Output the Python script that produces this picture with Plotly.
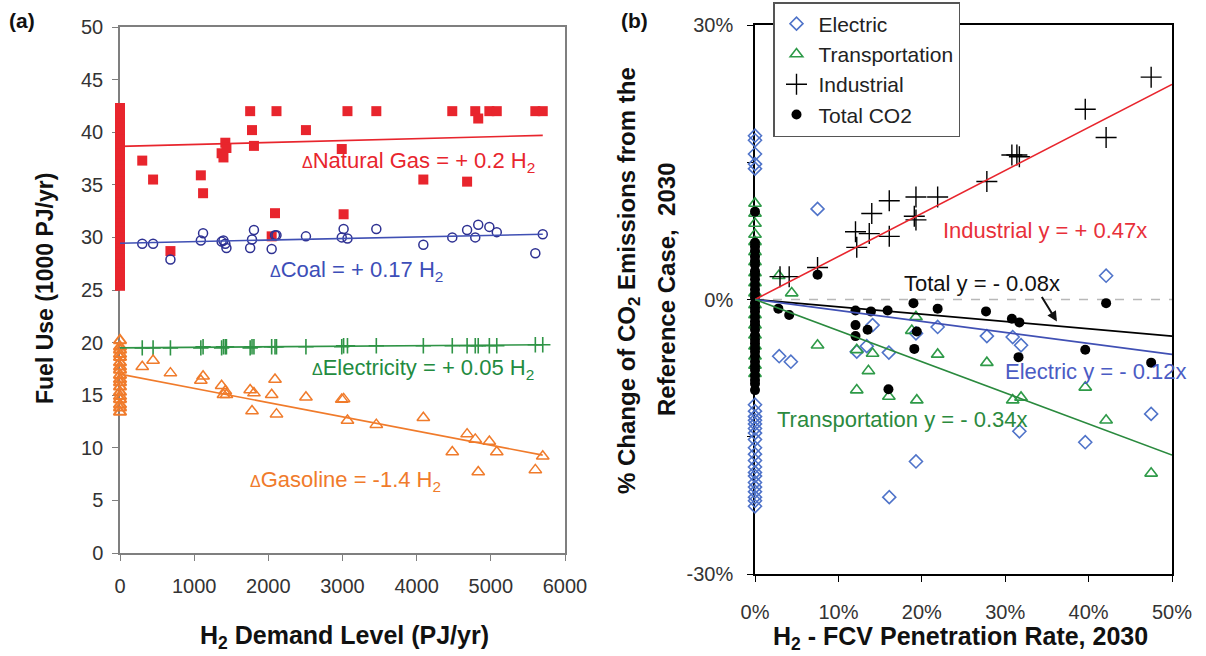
import plotly.graph_objects as go

W, H = 1206, 656

# ---------------- Panel (a) data ----------------
h2_demand = [300, 446, 680, 1090, 1120, 1370, 1395, 1420, 1435, 1755, 1780, 1806, 2045, 2090,
             2110, 2507, 2990, 3015, 3067, 3456, 4090, 4480, 4680, 4790, 4830, 4980, 5080, 5600, 5700]
natural_gas = [37.3, 35.5, 28.7, 35.9, 34.2, 38.0, 37.6, 39.0, 38.5, 42.0, 40.2, 38.7, 30.1, 32.3,
               42.0, 40.2, 38.4, 32.2, 42.0, 42.0, 35.5, 42.0, 35.3, 42.0, 41.3, 42.0, 42.0, 42.0, 42.0]
coal = [29.4, 29.4, 27.9, 29.7, 30.4, 29.6, 29.7, 29.4, 29.0, 29.0, 29.8, 30.7, 28.9, 30.2,
        30.2, 30.1, 30.0, 30.8, 29.9, 30.8, 29.3, 30.0, 30.7, 30.0, 31.2, 31.0, 30.5, 28.5, 30.3]
electricity = [19.5, 19.5, 19.5, 19.5, 19.6, 19.5, 19.6, 19.6, 19.6, 19.5, 19.6, 19.6, 19.6, 19.6,
               19.6, 19.6, 19.6, 19.7, 19.7, 19.7, 19.7, 19.7, 19.7, 19.7, 19.7, 19.7, 19.7, 19.8, 19.8]
gasoline = [17.7, 18.3, 17.1, 16.4, 16.8, 15.9, 15.05, 15.4, 15.05, 15.5, 13.5, 15.2, 15.05, 16.5,
            13.2, 14.8, 14.6, 14.65, 12.6, 12.2, 12.85, 9.6, 11.3, 10.8, 7.7, 10.6, 9.6, 7.9, 9.2]
# scenarios with zero H2 demand (stacked on x = 0)
natural_gas_zero = [25.4, 25.9, 26.5, 26.9, 27.6, 28.0, 28.4, 28.9, 29.5, 29.9, 30.4, 30.9, 31.5,
                    31.9, 32.3, 32.9, 33.4, 33.8, 34.3, 34.9, 35.4, 35.8, 36.3, 36.9, 37.4, 37.8,
                    38.3, 38.9, 39.4, 39.8, 40.3, 40.9, 41.4, 41.8, 42.3]
gasoline_zero = [13.4, 13.8, 14.1, 14.6, 14.9, 15.3, 15.8, 16.2, 16.5, 16.9, 17.4, 17.7, 18.1,
                 18.6, 18.9, 19.3, 19.6, 20.2]
trend_a_x = [0, 5700]
natural_gas_trend = [38.65, 39.7]
coal_trend = [29.45, 30.3]
electricity_trend = [19.5, 19.8]
gasoline_trend = [17.0, 9.3]

# ---------------- Panel (b) data (percent) ----------------
electric_x = [7.5, 42.1, 14.1, 21.9, 27.8, 30.9, 31.9, 12.2, 13.4, 16.05, 2.9, 4.3, 31.7, 39.6, 47.5,
              19.3, 16.1, 19.3]
electric_y = [9.9, 2.6, -2.8, -3.0, -4.0, -4.1, -5.0, -5.7, -5.1, -5.8, -6.2, -6.8, -14.4, -15.6,
              -12.5, -17.7, -21.6, -3.7]
transport_x = [2.85, 4.4, 19.3, 7.5, 12.2, 14.1, 21.9, 27.8, 13.6, 12.2, 16.05, 19.4, 30.9, 31.9,
               39.6, 42.1, 47.5, 18.8]
transport_y = [2.6, 0.7, -1.9, -5.0, -5.5, -5.9, -6.0, -6.9, -7.8, -9.9, -10.6, -11.0, -11.0, -10.7,
               -9.6, -13.2, -19.0, -3.4]
industrial_x = [47.5, 39.6, 42.1, 30.8, 31.7, 31.4, 27.8, 21.9, 19.3, 16.1, 14.0, 19.1, 19.3, 12.05,
                13.7, 16.1, 12.2, 7.5, 4.1, 3.0]
industrial_y = [24.3, 20.8, 17.7, 15.8, 15.6, 15.8, 12.9, 11.2, 11.2, 10.8, 9.4, 9.1, 8.7, 7.4,
                7.2, 6.9, 5.7, 3.5, 2.5, 2.5]
total_x = [7.5, 42.1, 19.0, 21.9, 27.7, 30.8, 31.7, 12.05, 13.9, 15.9, 2.8, 4.1, 12.05, 13.5, 12.05,
           19.4, 19.1, 16.0, 31.6, 39.6, 47.5]
total_y = [2.7, -0.4, -0.4, -1.0, -1.3, -2.1, -2.5, -1.2, -1.3, -1.2, -1.0, -1.7, -2.8, -3.3, -4.0,
           -3.5, -5.4, -9.8, -6.3, -5.5, -6.9]
electric_zero = [17.9, 17.4, 15.9, 14.8, 14.3, -11.5, -12.2, -12.8, -13.2, -13.6, -14.1, -14.6,
                 -15.3, -16.2, -16.9, -17.6, -18.3, -18.9, -19.3, -20.0, -20.5, -21.0, -21.6, -22.0,
                 -22.6]
transport_zero = [10.5, 9.4, 8.3, 7.1, 6.3, 5.2, 4.1, 2.9, 1.8, 0.7, -0.6, -1.7, -2.8, -3.9, -5.1,
                  -6.2, -7.2, -8.1]
total_zero = [9.6, 6.2, 5.8, 5.3, 4.7, 4.2, 3.8, 3.1, 2.7, 2.2, 1.6, 1.1, 0.6, 0.2, -0.4, -0.9,
              -1.3, -1.9, -2.4, -2.8, -3.3, -3.9, -4.4, -4.8, -5.3, -5.7, -6.2, -6.8, -7.3, -7.7,
              -8.3, -8.8, -9.2, -9.9]
trend_b_x = [0, 50]
industrial_trend = [0, 23.5]
total_trend = [0, -4.0]
electric_trend = [0, -6.0]
transport_trend = [0, -17.0]

# ---------------- colours ----------------
RED = "#e8252d"
NAVY = "#2e3192"
BLUE_LINE = "#4050b4"
GREEN_A = "#2f9446"
ORANGE = "#f07b2b"
DIAMOND = "#4f73c9"
GREEN_B = "#2e9a48"
FONT = "Arial, Liberation Sans, sans-serif"

fig = go.Figure()


def sc(x, y, xa, ya, **kw):
    fig.add_trace(go.Scatter(x=x, y=y, xaxis=xa, yaxis=ya, **kw))


# ---- panel (a) ----
sc([0] * len(natural_gas_zero), natural_gas_zero, "x", "y", mode="markers", showlegend=False,
   cliponaxis=False, marker=dict(symbol="square", size=10, color=RED))
sc(h2_demand, natural_gas, "x", "y", mode="markers", showlegend=False, cliponaxis=False,
   marker=dict(symbol="square", size=10, color=RED))
sc(h2_demand, coal, "x", "y", mode="markers", showlegend=False, cliponaxis=False,
   marker=dict(symbol="circle-open", size=9, color=NAVY, line=dict(width=1.5)))
sc(h2_demand, electricity, "x", "y", mode="markers", showlegend=False, cliponaxis=False,
   marker=dict(symbol="cross-thin", size=11, color=GREEN_A, line=dict(width=1.6, color=GREEN_A)))
sc([0] * len(gasoline_zero), gasoline_zero, "x", "y", mode="markers", showlegend=False,
   cliponaxis=False, marker=dict(symbol="triangle-up-open", size=11, color=ORANGE, line=dict(width=2)))
sc(h2_demand, gasoline, "x", "y", mode="markers", showlegend=False, cliponaxis=False,
   marker=dict(symbol="triangle-up-open", size=11, color=ORANGE, line=dict(width=1.5)))
for ty, col in [(natural_gas_trend, RED), (coal_trend, BLUE_LINE),
                (electricity_trend, GREEN_A), (gasoline_trend, ORANGE)]:
    sc(trend_a_x, ty, "x", "y", mode="lines", showlegend=False, line=dict(color=col, width=1.6))

# ---- panel (b) ----
sc([0] * len(electric_zero), electric_zero, "x2", "y2", mode="markers", showlegend=False,
   cliponaxis=False, marker=dict(symbol="diamond-open", size=10, color=DIAMOND, line=dict(width=1.6)))
sc([0] * len(transport_zero), transport_zero, "x2", "y2", mode="markers", showlegend=False,
   cliponaxis=False, marker=dict(symbol="triangle-up-open", size=11, color=GREEN_B, line=dict(width=1.6)))
sc([0] * len(total_zero), total_zero, "x2", "y2", mode="markers", showlegend=False,
   cliponaxis=False, marker=dict(symbol="circle", size=10, color="black"))

sc(trend_b_x, [0, 0], "x2", "y2", mode="lines", showlegend=False,
   line=dict(color="#b8b8b8", width=1.5, dash="dash"))

sc(electric_x, electric_y, "x2", "y2", mode="markers", name="Electric", cliponaxis=False,
   marker=dict(symbol="diamond-open", size=10, color=DIAMOND, line=dict(width=1.6)))
sc(transport_x, transport_y, "x2", "y2", mode="markers", name="Transportation", cliponaxis=False,
   marker=dict(symbol="triangle-up-open", size=11, color=GREEN_B, line=dict(width=1.6)))
sc(industrial_x, industrial_y, "x2", "y2", mode="markers", name="Industrial", cliponaxis=False,
   marker=dict(symbol="cross-thin", size=15, color="black", line=dict(width=1.4, color="black")))
sc(total_x, total_y, "x2", "y2", mode="markers", name="Total CO2", cliponaxis=False,
   marker=dict(symbol="circle", size=10, color="black"))
for ty, col in [(industrial_trend, RED), (total_trend, "black"),
                (electric_trend, BLUE_LINE), (transport_trend, "#2a8a3e")]:
    sc(trend_b_x, ty, "x2", "y2", mode="lines", showlegend=False, line=dict(color=col, width=1.6))


def px(x):
    return x / W


def py(y):
    return 1 - y / H


TICKF = dict(family=FONT, size=20, color="#333333")
GRAY = "#7f7f7f"

fig.update_layout(
    width=W, height=H, margin=dict(l=0, r=0, t=0, b=0, autoexpand=False),
    paper_bgcolor="white", plot_bgcolor="white",
    font=dict(family=FONT),
    xaxis=dict(domain=[px(120), px(565)], range=[0, 6000], tickvals=[0, 1000, 2000, 3000, 4000, 5000, 6000],
               automargin=False,
               showgrid=False, zeroline=False, showline=True, linecolor=GRAY, linewidth=1.5, mirror=True,
               ticks="outside", ticklen=6, tickcolor=GRAY, tickfont=TICKF, ticklabelstandoff=8,
               layer="below traces"),
    yaxis=dict(domain=[py(553), py(27)], range=[0, 50], dtick=5, anchor="x", automargin=False,
               showgrid=False, zeroline=False, showline=True, linecolor=GRAY, linewidth=1.5, mirror=True,
               ticks="outside", ticklen=6, tickcolor=GRAY, tickfont=TICKF, ticklabelstandoff=5,
               layer="below traces"),
    xaxis2=dict(domain=[px(755), px(1172)], range=[0, 50], tickvals=[0, 10, 20, 30, 40, 50],
                ticktext=["0%", "10%", "20%", "30%", "40%", "50%"], anchor="y2", automargin=False,
                showgrid=False, zeroline=False, showline=True, linecolor="black", linewidth=1.5, mirror=True,
                ticks="outside", ticklen=6, tickcolor="black", tickfont=TICKF, ticklabelstandoff=13,
                layer="below traces"),
    yaxis2=dict(domain=[py(574), py(25)], range=[-30, 30], tickvals=[-30, 0, 30],
                ticktext=["-30%", "0%", "30%"], anchor="x2", automargin=False,
                minor=dict(dtick=15, tick0=0, ticks="outside", ticklen=6, tickcolor="black"),
                showgrid=False, zeroline=False, showline=True, linecolor="black", linewidth=1.5, mirror=True,
                ticks="outside", ticklen=6, tickcolor="black", tickfont=TICKF, ticklabelstandoff=10,
                layer="below traces"),
    legend=dict(x=px(773), y=py(2), xanchor="left", yanchor="top", bgcolor="white",
                bordercolor="#555555", borderwidth=1.5, font=dict(family=FONT, size=21, color="#222"),
                itemwidth=34, tracegroupgap=0),
)

ann = []


def text(x, y, s, color, size=22, bold=False, anchor="left", angle=0):
    ann.append(dict(x=px(x), y=py(y), xref="paper", yref="paper", text=(f"<b>{s}</b>" if bold else s),
                    showarrow=False, xanchor=anchor, yanchor="middle", textangle=angle,
                    font=dict(family=FONT, size=size, color=color)))


D = "<span style='font-size:16px'>Δ</span>"
text(22, 21, "(a)", "#111", size=21, bold=True, anchor="center")
text(634, 21, "(b)", "#111", size=21, bold=True, anchor="center")
text(300, 162, D + "Natural Gas = + 0.2 H<sub>2</sub>", RED)
text(268, 271, D + "Coal = + 0.17 H<sub>2</sub>", "#3d4eb8")
text(310, 369, D + "Electricity = + 0.05 H<sub>2</sub>", "#238b3f")
text(248, 481, D + "Gasoline = -1.4 H<sub>2</sub>", ORANGE)
text(941, 230, "Industrial y = + 0.47x", "#e8303a")
text(902, 283, "Total y = - 0.08x", "#111")
text(1003, 372, "Electric y = - 0.12x", "#4b5cc4")
text(775, 419, "Transportation y = - 0.34x", "#2b8a3e")
# axis titles
text(45, 289, "Fuel Use (1000 PJ/yr)", "#111", size=23, bold=True, anchor="center", angle=-90)
text(345, 637, "H<sub>2</sub> Demand Level (PJ/yr)", "#111", size=25, bold=True, anchor="center")
text(960, 638, "H<sub>2</sub> - FCV Penetration Rate, 2030", "#111", size=25, bold=True, anchor="center")
text(628, 281, "% Change of CO<sub>2</sub> Emissions from the", "#111", size=24, bold=True,
     anchor="center", angle=-90)
text(666, 289, "Reference Case,  2030", "#111", size=24, bold=True, anchor="center", angle=-90)

# arrow pointing to the total trend line
ann.append(dict(x=36.2, y=-2.4, xref="x2", yref="y2", ax=-16, ay=-26, text="", showarrow=True,
                arrowhead=2, arrowsize=1, arrowwidth=2, arrowcolor="#111"))
fig.update_layout(annotations=ann)

fig.write_html("out.html")
